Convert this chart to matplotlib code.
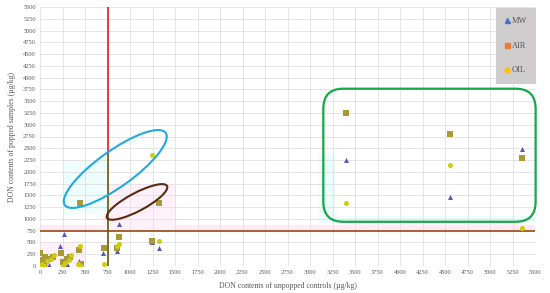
import matplotlib
matplotlib.use("Agg")
import matplotlib.pyplot as plt
from matplotlib.lines import Line2D
from matplotlib.patches import Ellipse, FancyBboxPatch
from matplotlib.transforms import ScaledTranslation

plt.rcParams['font.family'] = ['Liberation Serif', 'DejaVu Serif']

# DON contents (µg/kg): unpopped control (x) vs popped sample (y)
mw_x = [0, 50, 100, 222, 270, 300, 433, 460, 703, 852, 878, 1248, 1326, 3400, 4550, 5350]
mw_y = [20, 60, 30, 430, 671, 40, 106, 30, 268, 310, 883, 515, 374, 2246, 1469, 2494]

air_x = [0, 30, 60, 100, 140, 230, 260, 300, 330, 433, 460, 715, 852, 881, 1248, 1326, 444, 3400, 4550, 5350]
air_y = [268, 120, 200, 150, 200, 268, 80, 150, 200, 330, 40, 374, 374, 621, 536, 1328, 1328, 3249, 2812, 2295]

oil_x = [0, 20, 50, 80, 120, 160, 250, 280, 320, 340, 420, 444, 460, 715, 852, 881, 1248, 1326, 3400, 4550, 5350]
oil_y = [10, 50, 0, 100, 150, 230, 0, 60, 120, 230, 40, 430, 0, 35, 424, 459, 2352, 536, 1328, 2155, 812]

series = ['MW', 'AIR', 'OIL']
legend_colors = ['#4472C4', '#ED7D31', '#FFC000']
point_colors = ['#5B55C0', '#A99A35', '#CDCB12']
markers = ['^', 's', 'o']

limit = 750  # threshold lines
ticks = list(range(0, 5501, 250))

fig = plt.figure(figsize=(5.5, 2.93), dpi=100)
ax = fig.add_axes([40 / 550, 27 / 293, 495 / 550, 259 / 293])
ax.set_xlim(0, 5500)
ax.set_ylim(0, 5500)
ax.set_xticks(ticks)
ax.set_yticks(ticks)
ax.tick_params(labelsize=4.6, colors='#595959', length=0, pad=3)
ax.grid(color='#E0E0E0', lw=0.6)
ax.set_axisbelow(True)
for s in ax.spines.values():
    s.set_visible(False)

# very faint highlight halos seen in the picture
pink = '#FFF1FA'
cyan = '#EEFEFD'
ax.axhspan(limit, 880, color='#FFEBF8', zorder=0.5, lw=0)
ax.fill_between([0, 500], 0, 500, color=pink, zorder=0.5, lw=0)
ax.fill_between([700, 1500], limit, 1750, color=pink, zorder=0.5, lw=0)
ax.fill_between([250, 750], 1100, 2250, color=cyan, zorder=0.5, lw=0)
ax.fill_between([3100, 3280], 910, 2400, color=cyan, zorder=0.5, lw=0)
ax.fill_between([3150, 5500], 940, 1060, color=cyan, zorder=0.5, lw=0)

# threshold lines
ax.axhline(limit, color='#9C4A14', lw=1.2, zorder=2)
ax.plot([limit, limit], [2400, 5500], color='#E8191C', lw=1.2, zorder=2)
ax.plot([limit, limit], [0, 2400], color='#6E5514', lw=1.2, zorder=2)

# points
for xs, ys, c, m, name in zip([mw_x, air_x, oil_x], [mw_y, air_y, oil_y],
                               point_colors, markers, series):
    ax.scatter(xs, ys, s=13, marker=m, color=c, lw=0, zorder=3, label=name)

# ellipses drawn in inches around a data-space centre
def ring(cx, cy, w, h, ang, color):
    tr = fig.dpi_scale_trans + ScaledTranslation(cx, cy, ax.transData)
    ax.add_patch(Ellipse((0, 0), w, h, angle=ang, transform=tr,
                         fill=False, ec=color, lw=1.5, zorder=4))

ring(836, 2060, 1.24, 0.36, 35.6, '#22A8DE')
ring(1078, 1360, 0.68, 0.18, 28, '#5A2A10')

# rounded box around the high-DON samples
x_per_px = 5500 / 495
y_per_px = 5500 / 259
box = FancyBboxPatch((3148, 939), 5507 - 3148, 3765 - 939,
                     boxstyle='round,pad=0,rounding_size=%f' % (20 * x_per_px),
                     mutation_aspect=y_per_px / x_per_px,
                     fill=False, ec='#13A84A', lw=1.6, zorder=4, clip_on=False)
ax.add_patch(box)

ax.set_xlabel('DON contents of unpopped controls (µg/kg)', fontsize=5.6, color='#595959', labelpad=5)
ax.set_ylabel('DON contents of popped samples (µg/kg)', fontsize=5.6, color='#595959', labelpad=5)

handles = [Line2D([], [], ls='none', marker=m, color=c, markersize=3.6)
           for m, c in zip(markers, legend_colors)]
leg = ax.legend(handles, series, loc='upper right', bbox_to_anchor=(536 / 550, 1 - 8 / 293),
                bbox_transform=fig.transFigure, borderaxespad=0, fontsize=6,
                labelspacing=2.0, borderpad=1.1, handlelength=0.6, handletextpad=0.2,
                fancybox=False, frameon=True, facecolor='#CFCDCD', edgecolor='none',
                framealpha=1, labelcolor='#595959')
leg.set_zorder(6)

fig.savefig('out.png', dpi=100)
